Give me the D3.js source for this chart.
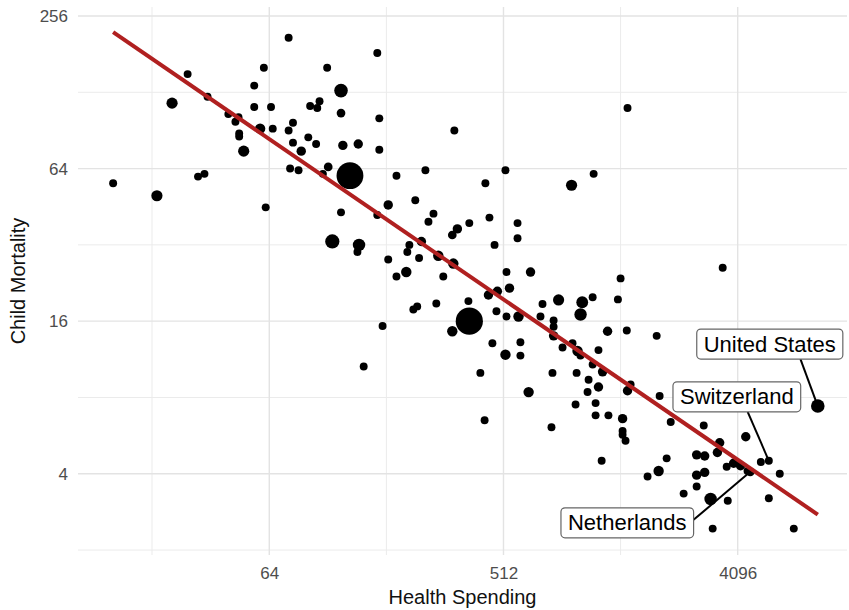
<!DOCTYPE html>
<html>
<head>
<meta charset="utf-8">
<script src="https://cdn.jsdelivr.net/npm/d3@7"></script>
<style>
  body { margin: 0; background: #fff; }
  text { font-family: "Liberation Sans", Arial, sans-serif; }
</style>
</head>
<body>
<div id="chart"></div>
<script>
// Health spending per capita (x) and child mortality (y)
const spending = [
  76, 61, 31, 56, 37, 27, 56, 65, 44.5, 48.7, 47.4, 59, 66, 79, 76, 49, 49, 79, 51, 77,
  83, 16, 34, 36, 23.6, 167, 107, 121, 92, 98, 100, 121, 170, 90.5, 97, 85, 123, 141, 170, 108,
  131, 103, 198, 256, 331, 436, 521, 937, 234, 1540, 1140, 62, 121, 167, 184, 275, 263, 112, 142, 140,
  184, 218, 222, 247, 242, 216, 198, 287, 300, 328, 340, 325, 378, 452, 580, 580, 473, 526, 651, 540,
  448, 485, 230, 238, 282, 375, 378, 325, 481, 526, 585, 711, 724, 835, 1030, 1015, 799, 799, 799, 175,
  148, 464, 521, 595, 595, 791, 417, 640, 865, 980, 945, 988, 1014, 1290, 1530, 1995, 1190, 1130, 1234, 1090,
  1190, 1080, 1583, 1540, 971, 1160, 2048, 1160, 1300, 1474, 1474, 1474, 1513, 2260, 3030, 4400, 3490, 3420, 8340, 1224,
  2180, 2030, 1840, 2845, 3055, 2845, 3055, 3715, 3950, 4200, 4470, 4580, 5030, 5400, 5950, 2845, 2535, 3220, 3750, 5400,
  3280, 6740, 1130, 1414, 1448, 3585, 433, 784
];
const mortality = [
  210, 160, 151, 136, 123, 116, 112, 112, 105, 102, 98, 92, 92, 97, 90.5, 88, 85.7, 81, 75, 64,
  63, 56, 59.5, 61, 50, 183, 160, 130, 113, 111, 118, 106, 101, 85, 80, 75, 79, 80, 76, 65,
  60, 61, 60, 63, 90.5, 56, 63, 55, 48, 111, 61, 45, 43, 42, 46, 42.5, 39.5, 33, 32, 30,
  28, 30, 32, 33, 28.4, 25, 24, 29, 24, 27, 37, 35, 39, 41, 39, 34, 32, 25, 25, 21.6,
  20.3, 21, 17.8, 18.3, 18.8, 19.2, 16, 14.6, 17.5, 16.7, 16.7, 16.7, 18.7, 19.4, 19, 17, 16.1, 15.2, 14, 15.3,
  10.6, 13.1, 11.8, 13.2, 11.7, 10, 10, 8.4, 12.6, 10, 13.1, 12.2, 11.7, 14.6, 14.7, 14, 12.3, 10.8, 10.1, 9.4,
  8.8, 8.4, 9, 8.5, 7.5, 7.6, 8.1, 6.8, 6.8, 6.6, 5.9, 5.7, 5.4, 6.4, 6.2, 5.6, 5.3, 4.85, 7.4, 4.5,
  4.6, 4.1, 3.9, 4.75, 4.7, 3.95, 4.05, 4.26, 4.4, 4.3, 4.1, 4.07, 4.45, 4.5, 4.0, 3.56, 3.34, 3.18, 3.13, 3.2,
  2.43, 2.43, 19.9, 19.5, 23.6, 26, 6.5, 6.1
];
// population (millions)
const population = [
  3, 3, 3, 3, 3, 60, 3, 3, 3, 3, 3, 40, 3, 3, 3, 3, 3, 3, 60, 3,
  3, 3, 3, 3, 60, 3, 3, 150, 3, 3, 3, 10, 3, 3, 3, 20, 20, 20, 3, 10,
  1350, 3, 3, 3, 3, 3, 3, 60, 3, 3, 3, 3, 3, 3, 20, 3, 3, 180, 100, 3,
  3, 3, 3, 20, 3, 40, 3, 40, 3, 40, 20, 10, 3, 3, 3, 3, 3, 3, 20, 20,
  20, 20, 3, 3, 3, 3, 1400, 40, 3, 3, 40, 3, 3, 60, 80, 100, 3, 3, 20, 3,
  3, 3, 40, 3, 3, 3, 3, 40, 3, 3, 3, 40, 3, 20, 3, 3, 3, 3, 20, 3,
  20, 3, 3, 20, 3, 3, 3, 3, 3, 20, 3, 3, 3, 3, 3, 20, 20, 20, 150, 3,
  3, 40, 3, 20, 20, 20, 20, 3, 20, 20, 3, 10, 3, 3, 3, 3, 3, 100, 3, 3,
  3, 3, 3, 3, 3, 3, 3, 3
];

const labelNames = ["United States", "Switzerland", "Netherlands"];
const labelSpending = [8340, 5400, 4580];
const labelMortality = [7.4, 4.5, 4.07];

// fitted line end points
const trendSpending = [16, 8340];
const trendMortality = [221, 2.76];

const xTicks = [64, 512, 4096];
const yTicks = [4, 16, 64, 256];
const xMinor = [22.6, 181, 1448];
const yMinor = [2, 8, 32, 128];

const svgWidth = 849;
const svgHeight = 610;
const margin = { top: 7, right: 2, bottom: 55, left: 78 };
const width = svgWidth - margin.left - margin.right;
const height = svgHeight - margin.top - margin.bottom;

const svg = d3.select("#chart")
  .append("svg")
  .attr("width", svgWidth)
  .attr("height", svgHeight);

const chartGroup = svg.append("g")
  .attr("transform", `translate(${margin.left}, ${margin.top})`);

const x = d3.scaleLog().base(2)
  .domain([Math.pow(2, 3.55), Math.pow(2, 13.4)])
  .range([0, width]);
const y = d3.scaleLog().base(2)
  .domain([Math.pow(2, 0.935), Math.pow(2, 8.118)])
  .range([height, 0]);
const r = d3.scaleSqrt().domain([0, 1400]).range([3.5, 13.6]);

// grid
const grid = chartGroup.append("g");
grid.selectAll(".xminor").data(xMinor).enter().append("line")
  .attr("x1", d => x(d)).attr("x2", d => x(d))
  .attr("y1", 0).attr("y2", height)
  .attr("stroke", "#ebebeb").attr("stroke-width", 1);
grid.selectAll(".yminor").data(yMinor).enter().append("line")
  .attr("x1", 0).attr("x2", width)
  .attr("y1", d => y(d)).attr("y2", d => y(d))
  .attr("stroke", "#ebebeb").attr("stroke-width", 1);
grid.selectAll(".xmajor").data(xTicks).enter().append("line")
  .attr("x1", d => x(d)).attr("x2", d => x(d))
  .attr("y1", 0).attr("y2", height)
  .attr("stroke", "#e3e3e3").attr("stroke-width", 1.4);
grid.selectAll(".ymajor").data(yTicks).enter().append("line")
  .attr("x1", 0).attr("x2", width)
  .attr("y1", d => y(d)).attr("y2", d => y(d))
  .attr("stroke", "#e3e3e3").attr("stroke-width", 1.4);

// axes (labels only, theme_minimal style)
const xAxis = chartGroup.append("g")
  .attr("transform", `translate(0, ${height})`)
  .call(d3.axisBottom(x).tickValues(xTicks).tickFormat(d3.format("d")).tickSize(0).tickPadding(12));
const yAxis = chartGroup.append("g")
  .call(d3.axisLeft(y).tickValues(yTicks).tickFormat(d3.format("d")).tickSize(0).tickPadding(10));
[xAxis, yAxis].forEach(a => {
  a.select(".domain").remove();
  a.selectAll("text")
    .attr("fill", "#4d4d4d")
    .style("font-size", "17px")
    .style("font-family", "'Liberation Sans', Arial, sans-serif");
});

svg.append("text")
  .attr("x", margin.left + width / 2)
  .attr("y", 604)
  .attr("text-anchor", "middle")
  .style("font-size", "20px")
  .attr("fill", "#111")
  .text("Health Spending");

svg.append("text")
  .attr("transform", `translate(25, ${margin.top + height / 2}) rotate(-90)`)
  .attr("text-anchor", "middle")
  .style("font-size", "20px")
  .attr("fill", "#111")
  .text("Child Mortality");

// points
const points = spending.map((d, i) => ({ spend: d, mort: mortality[i], pop: population[i] }));
chartGroup.append("g").selectAll("circle")
  .data(points)
  .enter()
  .append("circle")
  .attr("cx", d => x(d.spend))
  .attr("cy", d => y(d.mort))
  .attr("r", d => r(d.pop))
  .attr("fill", "#000");

// trend line
chartGroup.append("line")
  .attr("x1", x(trendSpending[0])).attr("y1", y(trendMortality[0]))
  .attr("x2", x(trendSpending[1])).attr("y2", y(trendMortality[1]))
  .attr("stroke", "#b02020")
  .attr("stroke-width", 4);

// labels, placed like ggrepel did
const labelLayout = [
  { dx: -48, dy: -62, ax: 0.71, ay: 1 },
  { dx: -32, dy: -64, ax: 0.585, ay: 1 },
  { dx: -123, dy: 51, ax: 1, ay: 0.4 }
];
const labelGroup = chartGroup.append("g");
labelNames.forEach((name, i) => {
  const px = x(labelSpending[i]);
  const py = y(labelMortality[i]);
  const lay = labelLayout[i];
  const cx = px + lay.dx;
  const cy = py + lay.dy;
  const g = labelGroup.append("g");
  const seg = g.append("line");
  const box = g.append("rect");
  const t = g.append("text")
    .attr("x", cx)
    .attr("y", cy)
    .attr("text-anchor", "middle")
    .attr("dominant-baseline", "central")
    .style("font-size", "22px")
    .attr("fill", "#000")
    .text(name);
  const w = t.node().getComputedTextLength() + 14;
  const h = 30;
  box.attr("x", cx - w / 2).attr("y", cy - h / 2)
    .attr("width", w).attr("height", h)
    .attr("rx", 4)
    .attr("fill", "#fff")
    .attr("stroke", "#666")
    .attr("stroke-width", 1.2);
  seg.attr("x1", cx - w / 2 + lay.ax * w).attr("y1", cy - h / 2 + lay.ay * h)
    .attr("x2", px).attr("y2", py)
    .attr("stroke", "#000")
    .attr("stroke-width", 2);
});
</script>
</body>
</html>
